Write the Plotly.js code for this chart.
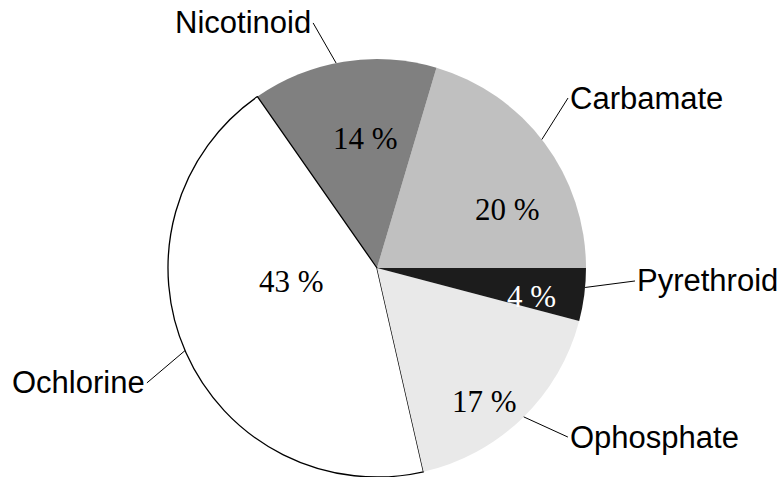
<!DOCTYPE html>
<html>
<head>
<meta charset="utf-8">
<script src="https://cdn.plot.ly/plotly-3.0.1.min.js"></script>
<style>html,body{margin:0;padding:0;background:#fff;}</style>
</head>
<body>
<div id="chart" style="width:783px;height:477px;"></div>
<script>
// ---- data (counter-clockwise order starting at 3 o'clock) ----
const categories = ['Carbamate', 'Nicotinoid', 'Ochlorine', 'Ophosphate', 'Pyrethroid'];
const values = [20, 14, 43, 17, 4];
const percentLabels = values.map(v => v + ' %');

// ---- styles ----
const sliceColors = ['#c0c0c0', '#808080', '#ffffff', '#e9e9e9', '#1c1c1c'];
const sliceLineColors = ['rgba(0,0,0,0)', 'rgba(0,0,0,0)', '#000000', 'rgba(0,0,0,0)', 'rgba(0,0,0,0)'];
const sliceLineWidths = [0, 0, 1.3, 0, 0];
const insideTextColors = ['#000', '#000', '#000', '#000', '#fff'];
const insideAngleOffset = [11.9, 4.0, 16.2, 4.7, 2.2];   // deg, clockwise from slice middle
const insideRadiusFrac = [0.688, 0.634, 0.413, 0.811, 0.752];
const leaderAngleOffset = [-1.2, -2.1, 0.6, -0.5, -2.0];
const leaderOffset = [[26.2, -41.5], [-23, -40.1], [-38.1, 32.3], [44.2, 20.2], [49.9, -6.5]];
const leaderSide = ['left', 'right', 'right', 'left', 'left'];

const W = 783, H = 477, R = 209, CX = 377, CY = 268;
const M = {l: CX - R, r: W - CX - R, t: CY - R, b: H - CY - R, pad: 0};
const PW = W - M.l - M.r, PH = H - M.t - M.b;
const toX = px => (px - M.l) / PW;
const toY = py => 1 - (py - M.t) / PH;

const total = values.reduce((a, b) => a + b, 0);
const k = 360 / total;
const rad = d => d * Math.PI / 180;
const pt = (deg, r) => [CX + r * Math.sin(rad(deg)), CY - r * Math.cos(rad(deg))];

const annotations = [];
const shapes = [];
let cum = 0;
values.forEach((v, i) => {
  const mid = 90 - (cum + v / 2) * k;
  cum += v;
  // inside percentage label
  const [tx, ty] = pt(mid + insideAngleOffset[i], R * insideRadiusFrac[i]);
  annotations.push({
    xref: 'paper', yref: 'paper', x: toX(tx), y: toY(ty),
    text: percentLabels[i], showarrow: false,
    xanchor: 'center', yanchor: 'middle', yshift: -2,
    font: {family: 'Liberation Serif, Times New Roman, serif', size: 31, color: insideTextColors[i]}
  });
  // leader line + category label
  const [ex, ey] = pt(mid + leaderAngleOffset[i], R);
  const ox = ex + leaderOffset[i][0], oy = ey + leaderOffset[i][1];
  shapes.push({
    type: 'line', xref: 'paper', yref: 'paper',
    x0: toX(ex), y0: toY(ey), x1: toX(ox), y1: toY(oy),
    line: {color: '#000', width: 1}
  });
  annotations.push({
    xref: 'paper', yref: 'paper', x: toX(ox), y: toY(oy),
    text: categories[i], showarrow: false,
    xanchor: leaderSide[i], yanchor: 'middle',
    font: {family: 'Liberation Sans, Arial, sans-serif', size: 31, color: '#000'}
  });
});

const trace = {
  type: 'pie',
  labels: categories,
  values: values,
  sort: false,
  direction: 'counterclockwise',
  rotation: 90 - values[0] * k,
  textinfo: 'none',
  hoverinfo: 'none',
  domain: {x: [0, 1], y: [0, 1]},
  marker: {colors: sliceColors, line: {color: sliceLineColors, width: sliceLineWidths}}
};

Plotly.newPlot('chart', [trace], {
  width: W, height: H,
  margin: M,
  showlegend: false,
  paper_bgcolor: '#fff',
  plot_bgcolor: '#fff',
  annotations: annotations,
  shapes: shapes
}, {displayModeBar: false, staticPlot: true});
</script>
</body>
</html>
